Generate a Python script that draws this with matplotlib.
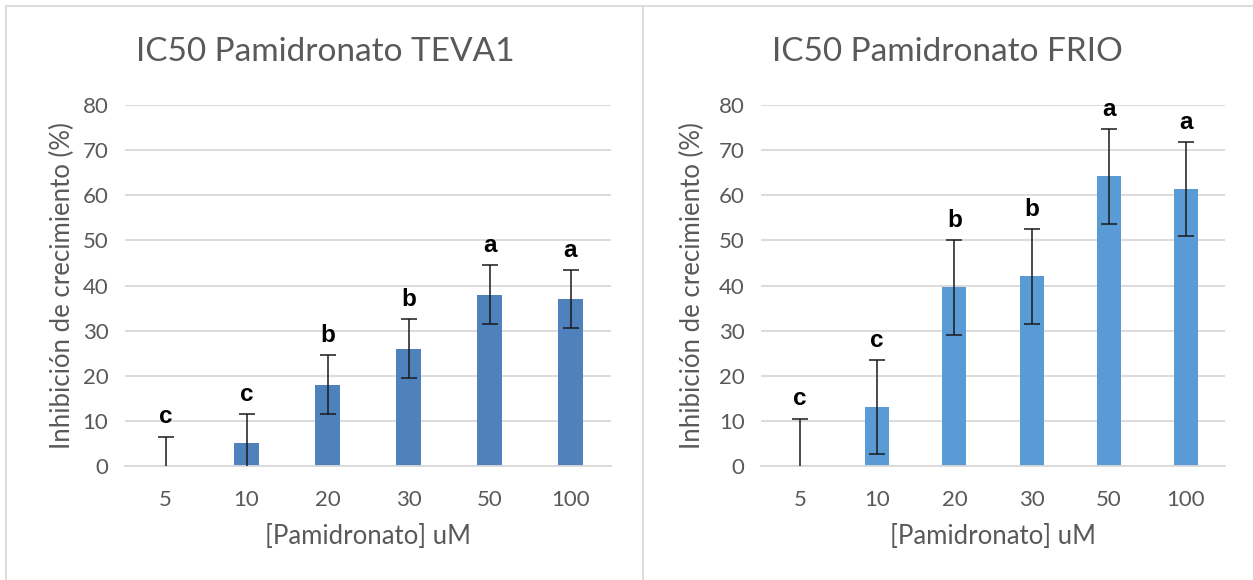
import numpy as np
import matplotlib.pyplot as plt
from matplotlib.lines import Line2D

# concentrations on the x axis
doses = ["5", "10", "20", "30", "50", "100"]

# TEVA1: mean inhibition, error and significance letters
teva_mean = [0, 5, 18, 26, 38, 37]
teva_err = [6.5, 6.5, 6.5, 6.5, 6.5, 6.5]
teva_letters = ["c", "c", "b", "b", "a", "a"]

# FRIO: mean inhibition, error and significance letters
frio_mean = [0, 13.1, 39.6, 42, 64.2, 61.4]
frio_err = [10.5, 10.4, 10.5, 10.5, 10.5, 10.4]
frio_letters = ["c", "c", "b", "b", "a", "a"]

gray = "#595959"
grid_col = "#D9D9D9"
plt.rcParams["font.family"] = ["Lato", "DejaVu Sans"]

W, H = 1253, 580
fig = plt.figure(figsize=(W / 100, H / 100), dpi=100)


def draw_panel(rect, means, errs, letters, color, title, title_x, bar_w, ylab_x):
    ax = fig.add_axes(rect)
    x = np.arange(len(doses))
    ax.bar(x, means, width=bar_w, color=color, zorder=2)
    ax.errorbar(x, means, yerr=errs, fmt="none", ecolor="#1a1a1a",
                elinewidth=1.1, capsize=6, capthick=1.1, zorder=3)
    for xi, m, e, lt in zip(x, means, errs, letters):
        ax.annotate(lt, (xi, m + e), xytext=(0, 9.5), textcoords="offset points",
                    ha="center", va="baseline", fontsize=17.5, fontweight="bold",
                    family=["Liberation Sans", "DejaVu Sans"], color="black",
                    annotation_clip=False, zorder=4)
    ax.set_xlim(-0.5, len(doses) - 0.5)
    ax.set_ylim(0, 80)
    ax.set_yticks(range(0, 81, 10))
    ax.set_xticks(x)
    ax.set_xticklabels(doses)
    ax.yaxis.grid(True, color=grid_col, linewidth=1.3, zorder=0)
    ax.set_axisbelow(True)
    for s in ["top", "right", "left"]:
        ax.spines[s].set_visible(False)
    ax.spines["bottom"].set_color(grid_col)
    ax.spines["bottom"].set_linewidth(1.3)
    ax.tick_params(length=0, labelsize=16, labelcolor=gray)
    ax.tick_params(axis="x", pad=17)
    ax.tick_params(axis="y", pad=12)
    ax.set_xlabel("[Pamidronato] uM", fontsize=18.5, color=gray, va="center")
    ax.set_ylabel("Inhibición de crecimiento (%)", fontsize=18.5, color=gray,
                  va="center")
    ax.xaxis.set_label_coords(0.5, -71 / 361)
    ax.yaxis.set_label_coords(ylab_x, 0.5)
    fig.text(title_x, 1 - 52 / H, title, ha="center", va="center",
             fontsize=24, color=gray)
    return ax


draw_panel([125 / W, 114 / H, 486 / W, 361 / H], teva_mean, teva_err,
           teva_letters, "#4F81BD", "IC50 Pamidronato TEVA1", 325 / W, 0.32,
           (62 - 125) / 486)
draw_panel([761.4 / W, 114 / H, 463.2 / W, 361 / H], frio_mean, frio_err,
           frio_letters, "#5B9BD5", "IC50 Pamidronato FRIO", 947 / W, 0.31,
           (692 - 761.4) / 463.2)

# chart area borders
border = dict(color=grid_col, linewidth=1.3, transform=fig.transFigure)
fig.add_artist(Line2D([6 / W, 1], [1 - 6 / H, 1 - 6 / H], **border))
fig.add_artist(Line2D([6 / W, 6 / W], [0, 1 - 6 / H], **border))
fig.add_artist(Line2D([643 / W, 643 / W], [0, 1 - 6 / H], **border))

fig.savefig("out.png", dpi=100)
